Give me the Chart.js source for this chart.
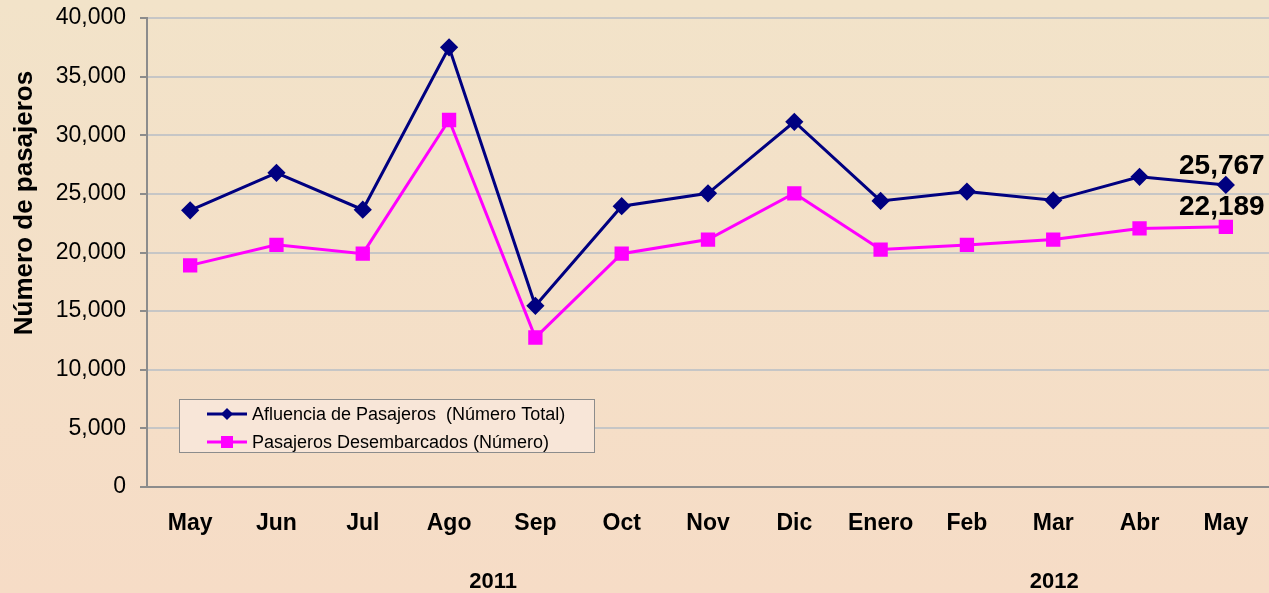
<!DOCTYPE html>
<html lang="es">
<head>
  <meta charset="UTF-8" />
  <title>Afluencia de Pasajeros</title>
  <script src="https://cdn.jsdelivr.net/npm/chart.js@4.4.1/dist/chart.umd.min.js"></script>
  <style>
    html, body { margin: 0; padding: 0; background: #f3e2c8; overflow: hidden; }
    #wrap { width: 1269px; height: 593px; position: relative; overflow: hidden; }
  </style>
</head>
<body>
  <div id="wrap"><canvas id="chart"></canvas></div>

  <script>
    const months = ['May', 'Jun', 'Jul', 'Ago', 'Sep', 'Oct', 'Nov', 'Dic', 'Enero', 'Feb', 'Mar', 'Abr', 'May'];
    const afluencia = [23600, 26800, 23650, 37500, 15450, 23950, 25050, 31150, 24400, 25200, 24450, 26450, 25767];
    const desembarcados = [18900, 20650, 19900, 31300, 12750, 19900, 21100, 25050, 20250, 20650, 21100, 22050, 22189];
    const yearLabels = [{ text: '2011', at: 3.5 }, { text: '2012', at: 10 }];
    const seriesNames = ['Afluencia de Pasajeros  (Número Total)', 'Pasajeros Desembarcados (Número)'];

    const fmt = v => v.toLocaleString('en-US');
    const FONT = '"Liberation Sans", Arial, sans-serif';

    // background, axis title, year labels, end labels, legend box
    const decor = {
      id: 'decor',
      beforeDraw(chart) {
        const ctx = chart.ctx;
        const g = ctx.createLinearGradient(0, 0, 0, chart.height);
        g.addColorStop(0, '#f2e3c9');
        g.addColorStop(1, '#f6dcc6');
        ctx.save();
        ctx.fillStyle = g;
        ctx.fillRect(0, 0, chart.width, chart.height);
        ctx.restore();
      },
      afterDraw(chart) {
        const ctx = chart.ctx;
        const x = chart.scales.x, y = chart.scales.y;
        ctx.save();
        ctx.fillStyle = '#000';
        ctx.textAlign = 'center';
        ctx.textBaseline = 'middle';

        // y title
        ctx.font = 'bold 26px ' + FONT;
        ctx.save();
        ctx.translate(25, 203);
        ctx.rotate(-Math.PI / 2);
        ctx.fillText('Número de pasajeros', 0, 0);
        ctx.restore();

        // years
        ctx.font = 'bold 22px ' + FONT;
        yearLabels.forEach(l => ctx.fillText(l.text, x.getPixelForValue(l.at) + 1, 582));

        // end value labels
        ctx.font = 'bold 28px ' + FONT;
        const last = months.length - 1;
        const lx = x.getPixelForValue(last) - 4;
        ctx.fillText(fmt(afluencia[last]), lx, y.getPixelForValue(afluencia[last]) - 19);
        ctx.fillText(fmt(desembarcados[last]), lx, y.getPixelForValue(desembarcados[last]) - 20);

        // legend
        const bx = 179, by = 399, bw = 415, bh = 53;
        ctx.fillStyle = '#f8e6d8';
        ctx.fillRect(bx, by, bw, bh);
        ctx.strokeStyle = '#8c8c8c';
        ctx.lineWidth = 1;
        ctx.strokeRect(bx + 0.5, by + 0.5, bw, bh);
        ctx.font = '18px ' + FONT;
        ctx.textAlign = 'left';
        chart.data.datasets.forEach((ds, i) => {
          const cy = by + 15 + i * 28;
          ctx.strokeStyle = ds.borderColor;
          ctx.lineWidth = 3;
          ctx.beginPath();
          ctx.moveTo(207, cy);
          ctx.lineTo(247, cy);
          ctx.stroke();
          ctx.fillStyle = ds.borderColor;
          if (i === 0) {
            ctx.beginPath();
            ctx.moveTo(227, cy - 6); ctx.lineTo(233, cy); ctx.lineTo(227, cy + 6); ctx.lineTo(221, cy);
            ctx.closePath();
            ctx.fill();
          } else {
            ctx.fillRect(221, cy - 6, 12, 12);
          }
          ctx.fillStyle = '#000';
          ctx.fillText(seriesNames[i], 252, cy + 1);
        });
        ctx.restore();
      }
    };

    const canvas = document.getElementById('chart');
    // the layout keeps ~11px on the right; draw a little wider and clip it
    canvas.width = 1280;
    canvas.height = 593;
    canvas.style.width = '1280px';
    canvas.style.height = '593px';

    new Chart(canvas, {
      type: 'line',
      data: {
        labels: months,
        datasets: [
          {
            label: seriesNames[0],
            data: afluencia,
            borderColor: '#000080',
            backgroundColor: '#000080',
            borderWidth: 3,
            pointStyle: 'rectRot',
            pointRadius: 7,
            pointHoverRadius: 7,
            tension: 0
          },
          {
            label: seriesNames[1],
            data: desembarcados,
            borderColor: '#ff00ff',
            backgroundColor: '#ff00ff',
            borderWidth: 3,
            pointStyle: 'rect',
            pointRadius: 8,
            pointHoverRadius: 8,
            tension: 0
          }
        ]
      },
      options: {
        responsive: false,
        animation: false,
        layout: { padding: { top: 18, right: 0, left: 0, bottom: 0 } },
        plugins: { legend: { display: false }, tooltip: { enabled: false } },
        scales: {
          x: {
            offset: true,
            grid: { display: false, drawTicks: false },
            border: { color: '#8c8c8c', width: 2 },
            ticks: {
              color: '#000',
              padding: 23,
              maxRotation: 0,
              font: { family: FONT, size: 23, weight: 'bold' }
            },
            afterFit: s => { s.height = 106; s.paddingLeft = 0; s.paddingRight = 0; }
          },
          y: {
            min: 0,
            max: 40000,
            grid: { color: '#c6c6c6', lineWidth: 2, tickLength: 7, tickColor: '#8c8c8c' },
            border: { color: '#8c8c8c', width: 2 },
            ticks: {
              stepSize: 5000,
              color: '#000',
              padding: 14,
              callback: v => fmt(v),
              font: { family: FONT, size: 23 }
            },
            afterFit: s => { s.width = 147; s.paddingTop = 0; s.paddingBottom = 0; }
          }
        }
      },
      plugins: [decor]
    });
  </script>
</body>
</html>
